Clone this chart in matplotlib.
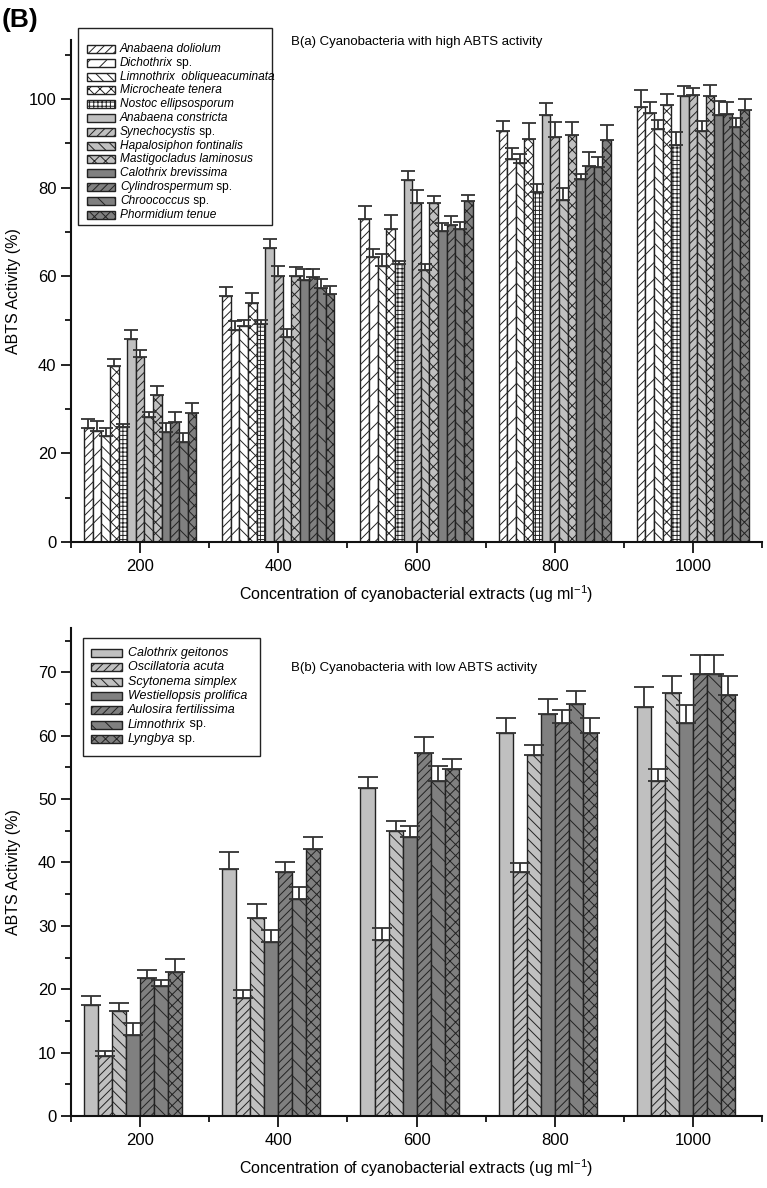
import matplotlib
matplotlib.use("Agg")
import matplotlib.pyplot as plt
from matplotlib.patches import Rectangle
from matplotlib.ticker import MultipleLocator, FixedLocator
import numpy as np

plt.rcParams['font.family'] = ['Liberation Sans', 'DejaVu Sans']
plt.rcParams['mathtext.fontset'] = 'custom'
plt.rcParams['mathtext.it'] = 'Liberation Sans:italic'
plt.rcParams['mathtext.rm'] = 'Liberation Sans'
plt.rcParams['hatch.linewidth'] = 0.7

# ---------------- data ----------------
concentrations = [200, 400, 600, 800, 1000]

# (italic part, plain suffix)
high_names = [('Anabaena doliolum', ''), ('Dichothrix', ' sp.'),
              ('Limnothrix  obliqueacuminata', ''), ('Microcheate tenera', ''),
              ('Nostoc ellipsosporum', ''), ('Anabaena constricta', ''),
              ('Synechocystis', ' sp.'), ('Hapalosiphon fontinalis', ''),
              ('Mastigocladus laminosus', ''), ('Calothrix brevissima', ''),
              ('Cylindrospermum', ' sp.'), ('Chroococcus', ' sp.'),
              ('Phormidium tenue', '')]

anabaena_doliolum   = [25.7, 55.5, 72.9, 92.7, 98.1]
dichothrix          = [25.1, 47.9, 64.3, 86.4, 96.9]
limnothrix_obl      = [23.9, 48.8, 62.4, 85.6, 93.2]
microcheate_tenera  = [39.8, 53.9, 70.7, 90.9, 98.6]
nostoc_ellipso      = [26.0, 49.2, 62.7, 78.9, 89.7]
anabaena_constricta = [45.8, 66.3, 81.6, 96.4, 100.7]
synechocystis       = [41.8, 60.1, 76.5, 91.4, 100.8]
hapalosiphon        = [28.3, 46.3, 61.3, 77.1, 92.7]
mastigocladus       = [33.2, 60.1, 76.5, 91.9, 100.6]
calothrix_brev      = [24.9, 59.1, 70.3, 81.9, 96.4]
cylindrospermum     = [27.1, 59.8, 71.6, 84.9, 96.6]
chroococcus         = [22.6, 57.3, 70.7, 84.6, 93.7]
phormidium_tenue    = [29.2, 55.9, 76.9, 90.8, 97.5]

anabaena_doliolum_err   = [2.1, 2.0, 2.9, 2.4, 3.9]
dichothrix_err          = [2.1, 1.9, 1.8, 2.6, 2.4]
limnothrix_obl_err      = [1.8, 1.4, 2.6, 2.0, 2.1]
microcheate_tenera_err  = [1.5, 2.4, 3.0, 3.6, 2.6]
nostoc_ellipso_err      = [0.6, 0.8, 0.8, 1.9, 2.8]
anabaena_constricta_err = [2.1, 2.1, 2.1, 2.7, 2.3]
synechocystis_err       = [1.5, 2.2, 3.0, 3.3, 1.6]
hapalosiphon_err        = [1.1, 1.8, 1.4, 2.9, 2.4]
mastigocladus_err       = [2.1, 2.0, 1.6, 2.8, 2.5]
calothrix_brev_err      = [1.9, 2.6, 1.8, 1.2, 3.1]
cylindrospermum_err     = [2.2, 1.8, 1.9, 3.2, 2.6]
chroococcus_err         = [2.1, 2.1, 1.5, 2.3, 2.0]
phormidium_tenue_err    = [2.2, 1.9, 1.5, 3.4, 2.5]

low_names = [('Calothrix geitonos', ''), ('Oscillatoria acuta', ''),
             ('Scytonema simplex', ''), ('Westiellopsis prolifica', ''),
             ('Aulosira fertilissima', ''), ('Limnothrix', ' sp.'),
             ('Lyngbya', ' sp.')]

calothrix_geitonos = [17.5, 39.0, 51.7, 60.5, 64.5]
oscillatoria_acuta = [9.4, 18.6, 27.8, 38.5, 52.8]
scytonema_simplex  = [16.6, 31.2, 45.0, 57.0, 66.7]
westiellopsis      = [12.8, 27.5, 44.0, 63.5, 62.0]
aulosira           = [21.7, 38.5, 57.3, 62.0, 69.7]
limnothrix_sp      = [20.5, 34.3, 52.8, 65.0, 69.7]
lyngbya            = [22.7, 42.2, 54.8, 60.5, 66.5]

calothrix_geitonos_err = [1.5, 2.6, 1.8, 2.3, 3.2]
oscillatoria_acuta_err = [0.8, 1.3, 1.8, 1.4, 2.0]
scytonema_simplex_err  = [1.2, 2.2, 1.5, 1.6, 2.8]
westiellopsis_err      = [1.8, 1.8, 1.8, 2.3, 2.8]
aulosira_err           = [1.4, 1.6, 2.5, 2.0, 3.0]
limnothrix_sp_err      = [1.0, 1.8, 2.5, 2.0, 3.0]
lyngbya_err            = [2.0, 1.8, 1.5, 2.3, 3.0]

high_vals = [anabaena_doliolum, dichothrix, limnothrix_obl, microcheate_tenera, nostoc_ellipso,
             anabaena_constricta, synechocystis, hapalosiphon, mastigocladus, calothrix_brev,
             cylindrospermum, chroococcus, phormidium_tenue]
high_errs = [anabaena_doliolum_err, dichothrix_err, limnothrix_obl_err, microcheate_tenera_err,
             nostoc_ellipso_err, anabaena_constricta_err, synechocystis_err, hapalosiphon_err,
             mastigocladus_err, calothrix_brev_err, cylindrospermum_err, chroococcus_err,
             phormidium_tenue_err]
low_vals = [calothrix_geitonos, oscillatoria_acuta, scytonema_simplex, westiellopsis,
            aulosira, limnothrix_sp, lyngbya]
low_errs = [calothrix_geitonos_err, oscillatoria_acuta_err, scytonema_simplex_err,
            westiellopsis_err, aulosira_err, limnothrix_sp_err, lyngbya_err]

# ---------------- styles ----------------
W = '#ffffff'
LG = '#c0c0c0'
DG = '#808080'
high_styles = [(W, '////'), (W, '//'), (W, '\\\\\\'), (W, 'xxx'), (W, '++++'),
               (LG, ''), (LG, '////'), (LG, '\\\\\\'), (LG, 'xxx'),
               (DG, ''), (DG, '////'), (DG, '\\\\'), (DG, 'xxx')]
low_styles = [(LG, ''), (LG, '////'), (LG, '\\\\\\'), (DG, ''), (DG, '////'), (DG, '\\\\'), (DG, 'xxx')]

EDGE = '#222222'
FW, FH = 767, 1188
fig = plt.figure(figsize=(FW / 100, FH / 100), dpi=100)


def fx(x):
    return x / FW


def fy(y):
    return 1 - y / FH


def axes_px(left, top, right, bottom):
    return fig.add_axes([fx(left), fy(bottom), (right - left) / FW, (bottom - top) / FH])


def style_axes(ax, ymax, ymajor, yminor):
    ax.set_xlim(100, 1100)
    ax.set_ylim(0, ymax)
    for s in ['top', 'right']:
        ax.spines[s].set_visible(False)
    for s in ['left', 'bottom']:
        ax.spines[s].set_linewidth(1.5)
        ax.spines[s].set_color('#111111')
    ax.xaxis.set_major_locator(FixedLocator(concentrations))
    ax.xaxis.set_minor_locator(FixedLocator([100, 300, 500, 700, 900, 1100]))
    ax.yaxis.set_major_locator(MultipleLocator(ymajor))
    ax.yaxis.set_minor_locator(MultipleLocator(yminor))
    ax.tick_params(axis='both', which='major', direction='out', length=7, width=1.3,
                   labelsize=12, color='#111111')
    ax.tick_params(axis='both', which='minor', direction='out', length=4.5, width=1.3,
                   color='#111111')
    ax.tick_params(axis='x', which='major', length=8, pad=4)
    ax.set_ylabel('ABTS Activity (%)', fontsize=11.5)
    ax.set_xlabel(r'Concentration of cyanobacterial extracts (ug ml$^{-1}$)', fontsize=11.5,
                  labelpad=7)
    ax.yaxis.set_label_coords(-0.072, 0.5)


def draw_bars(ax, vals, errs, styles, width, offset, capsize):
    n = len(vals)
    x = np.array(concentrations, dtype=float)
    for i, (v, e, (fc, h)) in enumerate(zip(vals, errs, styles)):
        xi = x + offset + (i - (n - 1) / 2) * width
        ax.bar(xi, v, width=width, color=fc, edgecolor=EDGE, hatch=h, linewidth=1.0, zorder=2)
        ax.errorbar(xi, v, yerr=[np.zeros(len(e)), e], fmt='none', ecolor='#333333',
                    elinewidth=1.3, capsize=capsize, capthick=1.3, zorder=3)


renderer = fig.canvas.get_renderer()


def draw_legend(box, y0, dy, hx, hw, hh, tx, names, styles, fontsize):
    left, top, right, bottom = box
    fig.add_artist(Rectangle((fx(left), fy(bottom)), (right - left) / FW, (bottom - top) / FH,
                             transform=fig.transFigure, facecolor='white', edgecolor='#222222',
                             linewidth=1.0, zorder=5))
    for i, ((it, plain), (fc, h)) in enumerate(zip(names, styles)):
        yc = y0 + i * dy
        fig.add_artist(Rectangle((fx(hx), fy(yc + hh / 2)), hw / FW, hh / FH,
                                 transform=fig.transFigure, facecolor=fc, edgecolor=EDGE,
                                 hatch=h, linewidth=1.0, zorder=6))
        t = fig.text(fx(tx), fy(yc), it, fontsize=fontsize, style='italic', ha='left',
                     va='center', zorder=7)
        if plain:
            bb = t.get_window_extent(renderer=renderer)
            fig.text(bb.x1 / (FW), fy(yc), plain, fontsize=fontsize, ha='left', va='center',
                     zorder=7)


# ---------------- top panel ----------------
ax1 = axes_px(71, 40, 762, 542)
style_axes(ax1, 113.3, 20, 10)
draw_bars(ax1, high_vals, high_errs, high_styles, 12.5, 0, 5)
draw_legend((78, 28, 272, 225), 49, 13.8, 87, 28, 8, 120, high_names, high_styles, 8.6)
fig.text(fx(291), fy(42), 'B(a) Cyanobacteria with high ABTS activity', fontsize=9.5,
         ha='left', va='center')

# ---------------- bottom panel ----------------
ax2 = axes_px(71, 628, 762, 1116)
style_axes(ax2, 77, 10, 5)
draw_bars(ax2, low_vals, low_errs, low_styles, 20.3, -10, 7)
draw_legend((83, 638, 260, 756), 653, 14.3, 91, 31, 8, 128, low_names, low_styles, 9.0)
fig.text(fx(291), fy(668), 'B(b) Cyanobacteria with low ABTS activity', fontsize=9.5,
         ha='left', va='center')

fig.text(fx(2), fy(20), '(B)', fontsize=19, fontweight='bold', ha='left', va='center')

fig.savefig('out.png', dpi=100)
